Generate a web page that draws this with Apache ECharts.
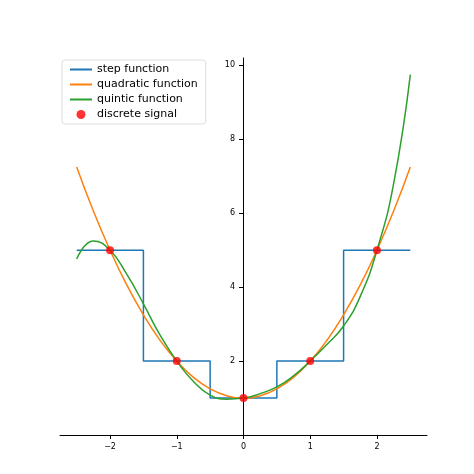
<!DOCTYPE html>
<html>
<head>
<meta charset="utf-8">
<script src="https://cdn.jsdelivr.net/npm/echarts@6/dist/echarts.min.js"></script>
<style>html,body{margin:0;padding:0;background:#fff}#container{width:474px;height:474px}</style>
</head>
<body>
<div id="container"></div>
<script>
var dom = document.getElementById("container");
var myChart = echarts.init(dom);

// discrete signal
var signalX = [-2, -1, 0, 1, 2];
var signalY = [5, 2, 1, 2, 5];

// step function corners
var stepX = [-2.5, -1.5, -0.5, 0.5, 1.5, 2.5];
var stepY = [5, 2, 1, 2, 5, 5];

// sampled curves, every 0.25
var curveX = [-2.5, -2.25, -2, -1.75, -1.5, -1.25, -1, -0.75, -0.5, -0.25, 0,
              0.25, 0.5, 0.75, 1, 1.25, 1.5, 1.75, 2, 2.25, 2.5];
var quadY = [7.25, 6.06, 5, 4.06, 3.25, 2.56, 2, 1.56, 1.25, 1.06, 1,
             1.06, 1.25, 1.56, 2, 2.56, 3.25, 4.06, 5, 6.06, 7.25];
var quinticY = [4.76, 5.25, 5, 4.35, 3.55, 2.7, 2, 1.45, 1.08, 0.97, 1,
                1.12, 1.3, 1.6, 2, 2.45, 2.95, 3.75, 5, 6.8, 9.75];

function pairs(xs, ys) {
  var out = [];
  for (var i = 0; i < xs.length; i++) out.push([xs[i], ys[i]]);
  return out;
}

var lineIcon = 'path://M0,0 L22,0 L22,2 L0,2 Z';

var option = {
  animation: false,
  grid: { left: 60, right: 47, top: 58, bottom: 39 },
  legend: {
    left: 62, top: 60, orient: 'vertical', itemGap: 4,
    backgroundColor: '#fff', borderColor: '#ddd', borderWidth: 1, borderRadius: 3,
    padding: [4, 8],
    textStyle: { fontFamily: 'DejaVu Sans', fontSize: 11, color: '#000' },
    data: [
      { name: 'step function', icon: lineIcon },
      { name: 'quadratic function', icon: lineIcon },
      { name: 'quintic function', icon: lineIcon },
      { name: 'discrete signal', icon: 'circle' }
    ],
    itemWidth: 22, itemHeight: 9, symbolKeepAspect: true
  },
  xAxis: {
    type: 'value', min: -2.75, max: 2.75,
    axisLine: { onZero: true, lineStyle: { color: '#000' } },
    splitLine: { show: false },
    axisTick: { customValues: [-2, -1, 0, 1, 2], length: 4, lineStyle: { color: '#000' } },
    axisLabel: { customValues: [-2, -1, 0, 1, 2], fontFamily: 'DejaVu Sans', fontSize: 8, color: '#000',
      formatter: function (v) { return v < 0 ? '\u2212' + (-v) : '' + v; } }
  },
  yAxis: {
    type: 'value', min: 0, max: 10.2, offset: -183,
    axisLine: { show: true, onZero: false, lineStyle: { color: '#000' } },
    splitLine: { show: false },
    axisTick: { show: true, customValues: [2, 4, 6, 8, 10], length: 4, lineStyle: { color: '#000' } },
    axisLabel: { customValues: [2, 4, 6, 8, 10], fontFamily: 'DejaVu Sans', fontSize: 8, color: '#000' }
  },
  series: [
    { name: 'step function', type: 'line', step: 'end', data: pairs(stepX, stepY),
      showSymbol: false, color: '#1f77b4', lineStyle: { width: 1.5 } },
    { name: 'quadratic function', type: 'line', smooth: true, data: pairs(curveX, quadY),
      showSymbol: false, color: '#ff7f0e', lineStyle: { width: 1.5 } },
    { name: 'quintic function', type: 'line', smooth: true, data: pairs(curveX, quinticY),
      showSymbol: false, color: '#2ca02c', lineStyle: { width: 1.5 } },
    { name: 'discrete signal', type: 'scatter', data: pairs(signalX, signalY),
      symbolSize: 8, color: '#ff0000', z: 5 }
  ]
};
myChart.setOption(option);
</script>
</body>
</html>
